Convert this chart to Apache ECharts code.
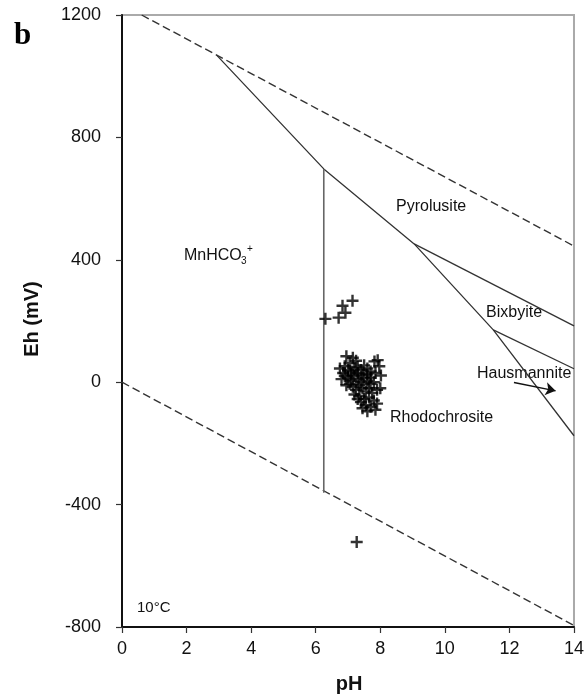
<!DOCTYPE html>
<html>
<head>
<meta charset="utf-8">
<script src="https://cdn.jsdelivr.net/npm/echarts@6/dist/echarts.min.js"></script>
<style>
html,body{margin:0;padding:0;background:#fff;}
#chart{width:587px;height:698px;}
</style>
</head>
<body>
<div id="chart"></div>
<script>
// ---- data (pH, Eh in mV) ----
var xTicks = [0, 2, 4, 6, 8, 10, 12, 14];
var yTicks = [-800, -400, 0, 400, 800, 1200];

var upperWater = [[0.61, 1200], [14, 445]];
var lowerWater = [[0, 0], [14, -795]];
var oxideBoundary = [[2.93, 1069], [6.25, 697], [9.05, 452], [11.5, 171], [14, -175]];
var mnhco3Boundary = [[6.25, 697], [6.25, -361]];
var pyroBixBoundary = [[9.05, 452], [14, 184]];
var bixHausBoundary = [[11.5, 171], [14, 44]];
var hausArrow = [[12.14, -1], [13.43, -28]];

var samples = [
  [6.30, 207], [6.71, 211], [6.83, 250], [6.92, 227], [7.14, 266],
  [7.27, -522],
  [6.95, 85], [7.15, 80], [7.05, 62], [7.25, 70], [6.75, 45], [6.85, 30],
  [6.90, 52], [7.00, 40], [7.10, 35], [7.20, 45], [7.30, 50], [7.40, 40],
  [7.50, 55], [7.60, 45], [7.70, 35], [7.82, 68], [7.92, 72], [7.97, 52],
  [7.85, 30], [7.70, 15], [8.02, 22],
  [6.80, 10], [6.90, 20], [7.00, 15], [7.10, 5], [7.20, 20], [7.30, 10],
  [7.40, 0], [7.50, 15], [7.60, 5], [7.70, -5], [7.80, 0], [8.00, -20],
  [7.90, -25], [6.95, -10], [7.05, -5], [7.15, -15], [7.25, -25], [7.35, -10],
  [7.45, -20], [7.55, -30], [7.65, -20], [7.75, -35], [7.30, 30], [7.45, 25],
  [7.60, 25], [7.10, 25],
  [7.20, -40], [7.35, -45], [7.50, -55], [7.65, -50], [7.80, -60], [7.40, -65],
  [7.55, -75], [7.70, -80], [7.85, -90], [7.60, -95], [7.90, -70], [7.30, -55],
  [7.45, -85]
];

var FONT = 'Liberation Sans, Arial, sans-serif';
var plusPath = 'path://M4.4,0H6.6V4.4H11V6.6H6.6V11H4.4V6.6H0V4.4H4.4Z';

function lineSeries(data, dashed, color, width) {
  return {
    type: 'line', data: data, symbol: 'none', silent: true, z: 3,
    lineStyle: { color: color || '#333', width: width || 1.3, type: dashed ? [8, 4] : 'solid' },
    animation: false
  };
}

var chart = echarts.init(document.getElementById('chart'), null, { renderer: 'canvas' });
chart.setOption({
  backgroundColor: '#fff',
  animation: false,
  grid: { left: 122, right: 12, top: 15, bottom: 71, show: true, borderColor: '#aaa', borderWidth: 2 },
  xAxis: {
    type: 'value', min: 0, max: 14, interval: 2,
    axisLine: { show: true, onZero: false, lineStyle: { color: '#111', width: 2 } },
    axisTick: { show: true, length: 6, lineStyle: { color: '#333', width: 1.2 } },
    axisLabel: { fontSize: 18, color: '#111', fontFamily: FONT, margin: 13,
      formatter: function (v) { return xTicks.indexOf(v) >= 0 ? String(v) : ''; } },
    splitLine: { show: false }
  },
  yAxis: {
    type: 'value', min: -800, max: 1200, interval: 400,
    axisLine: { show: true, onZero: false, lineStyle: { color: '#111', width: 2 } },
    axisTick: { show: true, length: 6, lineStyle: { color: '#333', width: 1.2 } },
    axisLabel: { fontSize: 18, color: '#111', fontFamily: FONT, margin: 21,
      formatter: function (v) { return yTicks.indexOf(v) >= 0 ? String(v) : ''; } },
    splitLine: { show: false }
  },
  series: [
    lineSeries(upperWater, true, '#333', 1.4),
    lineSeries(lowerWater, true, '#333', 1.4),
    lineSeries(oxideBoundary, false, '#333', 1.3),
    lineSeries(mnhco3Boundary, false, '#666', 1.6),
    lineSeries(pyroBixBoundary, false, '#333', 1.3),
    lineSeries(bixHausBoundary, false, '#333', 1.3),
    {
      type: 'lines', coordinateSystem: 'cartesian2d', silent: true, z: 4,
      symbol: ['none', 'arrow'], symbolSize: 10,
      lineStyle: { color: '#111', width: 1.3, opacity: 1 },
      data: [{ coords: hausArrow }]
    },
    {
      type: 'scatter', data: samples, symbol: plusPath, symbolSize: 12, z: 5,
      itemStyle: { color: '#000' }, silent: true
    }
  ],
  graphic: [
    { type: 'text', left: 14, top: 20, style: { text: 'b', font: 'bold 31px "Liberation Serif", "Times New Roman", serif', fill: '#000' } },
    { type: 'text', x: 32, y: 319, rotation: Math.PI / 2, style: { text: 'Eh (mV)', font: 'bold 20px ' + FONT, fill: '#111', align: 'center', verticalAlign: 'middle' } },
    { type: 'text', x: 349, y: 684, style: { text: 'pH', font: 'bold 20px ' + FONT, fill: '#111', align: 'center', verticalAlign: 'middle' } },
    { type: 'text', x: 396, y: 207, style: { text: 'Pyrolusite', font: '16px ' + FONT, fill: '#111', verticalAlign: 'middle' } },
    { type: 'text', x: 486, y: 313, style: { text: 'Bixbyite', font: '16px ' + FONT, fill: '#111', verticalAlign: 'middle' } },
    { type: 'text', x: 477, y: 374, style: { text: 'Hausmannite', font: '16px ' + FONT, fill: '#111', verticalAlign: 'middle' } },
    { type: 'text', x: 390, y: 418, style: { text: 'Rhodochrosite', font: '16px ' + FONT, fill: '#111', verticalAlign: 'middle' } },
    { type: 'text', x: 184, y: 256, style: { text: 'MnHCO', font: '16px ' + FONT, fill: '#111', verticalAlign: 'middle' } },
    { type: 'text', x: 241, y: 261, style: { text: '3', font: '10px ' + FONT, fill: '#111', verticalAlign: 'middle' } },
    { type: 'text', x: 247, y: 249, style: { text: '+', font: '10px ' + FONT, fill: '#111', verticalAlign: 'middle' } },
    { type: 'text', x: 137, y: 608, style: { text: '10°C', font: '15px ' + FONT, fill: '#111', verticalAlign: 'middle' } }
  ]
});
</script>
</body>
</html>
